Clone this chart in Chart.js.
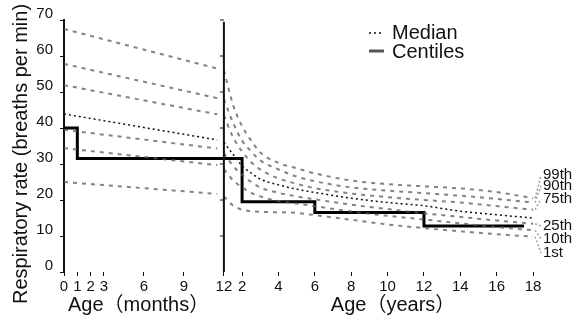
<!DOCTYPE html>
<html>
<head>
<meta charset="utf-8">
<script src="https://cdn.jsdelivr.net/npm/chart.js@4.4.1/dist/chart.umd.min.js"></script>
<style>
  html, body { margin: 0; padding: 0; background: #fff; }
  #wrap { position: relative; width: 582px; height: 323px; }
</style>
</head>
<body>
<div id="wrap"><canvas id="rrChart"></canvas></div>
<script>
// infants: age in months
const monthAges = [0, 11.5];
const c99Months = [67.5, 56.5];
const c90Months = [57.8, 48.3];
const c75Months = [51.9, 43.8];
const medianMonths = [43.9, 36.7];
const c25Months = [39.5, 34.3];
const c10Months = [34.4, 29.7];
const c1Months = [25, 21.7];

// children: age in years
const yearAges = [1, 1.5, 2, 2.5, 3, 4, 5, 6, 8, 10, 12, 14, 16, 18];
const c99Years = [56, 46.5, 40.5, 36.5, 33.2, 30.3, 28.8, 27.4, 25.4, 24.4, 23.8, 23.2, 22.2, 20.5];
const c90Years = [48, 41.5, 36.5, 33.5, 31, 28.5, 26.5, 25.2, 23.5, 22.6, 21.9, 21.2, 20.3, 19.3];
const c75Years = [43.5, 37.5, 33.5, 30.5, 28.5, 26, 24.5, 23.3, 21.8, 20.8, 20, 19.3, 18.3, 17.3];
const medianYears = [36, 32.7, 29.5, 27.5, 25.8, 24.2, 23, 22.1, 20.5, 19.3, 18.4, 16.9, 15.9, 15];
const c25Years = [33, 29.5, 27, 25, 23.5, 22, 21, 20.2, 18.7, 17.5, 16.3, 15.3, 14.3, 13.4];
const c10Years = [28.5, 25.5, 23.5, 22, 21, 19.7, 19, 18.3, 16.8, 15.6, 14.6, 13.5, 12.5, 11.6];
const c1Years = [21, 18.5, 17.3, 16.9, 16.7, 16.6, 16.4, 15.8, 14.5, 13.2, 12.2, 11.3, 10.5, 9.8];

// black step line
const stepMonths = [0, 1];
const stepMonthRates = [40, 31.5];
const stepYears = [2, 6, 12, 17.5];
const stepYearRates = [19.5, 16.5, 12.8, 12.8];

const monthTicks = [0, 1, 2, 3, 6, 9, 12];
const yearTicks = [2, 4, 6, 8, 10, 12, 14, 16, 18];
const rateTicks = [0, 10, 20, 30, 40, 50, 60, 70];
const centileNames = ['99th', '90th', '75th', '25th', '10th', '1st'];

// the year panel is stretched; 1 year sits on the 12 month line
const YEAR_STRETCH = 1.365;
const fromMonths = m => m;
const fromYears = a => 12 + (a - 1) * YEAR_STRETCH;

const FONT = "'Liberation Sans', 'Noto Sans CJK JP', sans-serif";
Chart.defaults.font.family = FONT;
Chart.defaults.color = '#111';

const xTickValues = monthTicks.map(fromMonths).concat(yearTicks.map(fromYears));
const xTickLabels = monthTicks.concat(yearTicks).map(String);

function series(monthVals, yearVals) {
  const pts = monthAges.map((m, i) => ({ x: fromMonths(m), y: monthVals[i] }));
  pts.push({ x: fromMonths(11.8), y: null });
  yearAges.forEach((a, i) => pts.push({ x: fromYears(a), y: yearVals[i] }));
  return pts;
}

const stepPoints = stepMonths.map((m, i) => ({ x: fromMonths(m), y: stepMonthRates[i] }))
  .concat(stepYears.map((a, i) => ({ x: fromYears(a), y: stepYearRates[i] })));

const centileColor = 'rgba(90,90,90,0.75)';
function centileSet(monthVals, yearVals) {
  return {
    data: series(monthVals, yearVals),
    borderColor: centileColor,
    borderWidth: 2,
    borderDash: [4, 5],
    cubicInterpolationMode: 'monotone',
    pointRadius: 0,
  };
}

const centileEnds = [c99Years, c90Years, c75Years, c25Years, c10Years, c1Years].map(a => a[a.length - 1]);
const labelShift = [-43, -32, -19, 8, 21, 35];

const extras = {
  id: 'extras',
  afterDatasetsDraw(chart) {
    const { ctx, chartArea, scales: { x, y } } = chart;
    ctx.save();

    // divider between months and years
    const dx = x.getPixelForValue(fromYears(1));
    ctx.strokeStyle = '#111';
    ctx.lineWidth = 2;
    ctx.beginPath();
    ctx.moveTo(dx, y.getPixelForValue(69.5));
    ctx.lineTo(dx, chartArea.bottom);
    ctx.stroke();
    ctx.lineWidth = 1;
    rateTicks.slice(1).forEach(v => {
      const py = y.getPixelForValue(v);
      ctx.beginPath();
      ctx.moveTo(dx - 4, py);
      ctx.lineTo(dx, py);
      ctx.stroke();
    });

    // axis titles
    ctx.fillStyle = '#111';
    ctx.font = '20px ' + FONT;
    ctx.textAlign = 'center';
    ctx.textBaseline = 'middle';
    ctx.fillText('Age（months）', x.getPixelForValue(fromMonths(5.6)), 305);
    ctx.fillText('Age（years）', x.getPixelForValue(fromYears(10.3)), 305);
    ctx.save();
    ctx.translate(21, 154);
    ctx.rotate(-Math.PI / 2);
    ctx.fillText('Respiratory rate (breaths per min)', 0, 0);
    ctx.restore();

    // centile labels with leaders
    const endX = x.getPixelForValue(fromYears(18));
    const medPx = y.getPixelForValue(medianYears[medianYears.length - 1]);
    ctx.font = '15px ' + FONT;
    ctx.textAlign = 'left';
    centileNames.forEach((name, i) => {
      const ly = medPx + labelShift[i];
      ctx.fillText(name, 543, ly);
      ctx.strokeStyle = 'rgba(120,120,120,0.7)';
      ctx.lineWidth = 1.5;
      ctx.setLineDash([2, 2]);
      ctx.beginPath();
      ctx.moveTo(endX + 2, y.getPixelForValue(centileEnds[i]));
      ctx.lineTo(541, ly);
      ctx.stroke();
      ctx.setLineDash([]);
    });

    // legend
    ctx.strokeStyle = '#111';
    ctx.lineWidth = 1.5;
    ctx.setLineDash([2, 3]);
    ctx.beginPath();
    ctx.moveTo(369, 33);
    ctx.lineTo(384, 33);
    ctx.stroke();
    ctx.setLineDash([]);
    ctx.strokeStyle = '#555';
    ctx.lineWidth = 3;
    ctx.beginPath();
    ctx.moveTo(369, 51);
    ctx.lineTo(384, 51);
    ctx.stroke();
    ctx.font = '20px ' + FONT;
    ctx.fillText('Median', 392, 33);
    ctx.fillText('Centiles', 392, 52);

    ctx.restore();
  }
};

new Chart(document.getElementById('rrChart'), {
  type: 'line',
  data: {
    datasets: [
      centileSet(c99Months, c99Years),
      centileSet(c90Months, c90Years),
      centileSet(c75Months, c75Years),
      centileSet(c25Months, c25Years),
      centileSet(c10Months, c10Years),
      centileSet(c1Months, c1Years),
      {
        data: series(medianMonths, medianYears),
        borderColor: '#111',
        borderWidth: 1.5,
        borderDash: [2, 3],
        cubicInterpolationMode: 'monotone',
        pointRadius: 0,
      },
      {
        data: stepPoints,
        borderColor: '#000',
        borderWidth: 3,
        stepped: 'before',
        pointRadius: 0,
      },
    ],
  },
  options: {
    responsive: true,
    maintainAspectRatio: false,
    animation: false,
    layout: { padding: { left: 0, right: 48, top: 20, bottom: 0 } },
    plugins: {
      legend: { display: false },
      tooltip: { enabled: false },
    },
    scales: {
      x: {
        type: 'linear',
        min: 0,
        max: fromYears(18.05),
        afterBuildTicks: s => { s.ticks = xTickValues.map(v => ({ value: v })); },
        afterFit: s => { s.height = 51; },
        ticks: {
          autoSkip: false,
          maxRotation: 0,
          padding: 2,
          color: '#111',
          font: { size: 15 },
          callback: (v, i) => xTickLabels[i],
        },
        grid: { drawOnChartArea: false, tickLength: 4, color: '#111' },
        border: { display: false },
      },
      y: {
        min: 0,
        max: 70,
        afterBuildTicks: s => { s.ticks = rateTicks.map(v => ({ value: v })); },
        afterFit: s => { s.width = 64; },
        ticks: { padding: 7, labelOffset: -6, color: '#111', font: { size: 15 } },
        grid: { drawOnChartArea: false, tickLength: 4, color: '#111' },
        border: { display: true, color: '#111', width: 2 },
        title: { display: false },
      },
    },
  },
  plugins: [extras],
});
</script>
</body>
</html>
